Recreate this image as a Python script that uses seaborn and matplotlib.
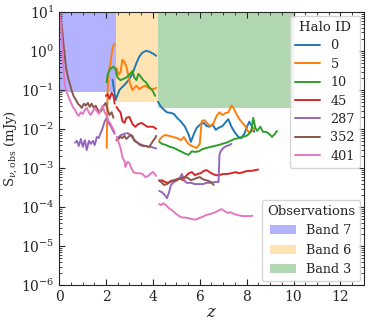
import numpy as np
import pandas as pd
import matplotlib
matplotlib.use('Agg')
import matplotlib.pyplot as plt
import seaborn as sns
from matplotlib.patches import Patch
from matplotlib.ticker import AutoMinorLocator, LogLocator, NullFormatter

nan = np.nan

# Halo flux curves, segments separated by nan (one segment per ALMA band window)
halo_ids = ['0', '5', '10', '45', '287', '352', '401']

z_0 = [2.28, 2.41, 2.58, 2.75, 2.87, 3.00, 3.13, 3.30, 3.42, 3.55, 3.72, 3.84, 4.01, 4.14, nan,
       4.22, 4.35, 4.48, 4.60, 4.77, 4.90, 5.03, 5.20, 5.37, 5.53, 5.62, 5.75, 5.87, 6.04, 6.17,
       6.29, 6.42, 6.55, 6.68, 6.80, 6.97, 7.14, 7.22, 7.35, 7.48, 7.65, 7.77, 7.90, 8.03, 8.11,
       8.24, 8.32]
s_0 = [0.184, 0.056, 0.102, 0.129, 0.154, 0.195, 0.262, 0.50, 0.72, 0.91, 1.02, 0.97, 0.86, 0.76, nan,
       0.050, 0.037, 0.031, 0.027, 0.026, 0.0245, 0.0195, 0.0155, 0.0115, 0.0071, 0.0047, 0.0076,
       0.0108, 0.0135, 0.0144, 0.012, 0.0115, 0.013, 0.0096, 0.0108, 0.012, 0.016, 0.018, 0.0115,
       0.0085, 0.0063, 0.0059, 0.0076, 0.012, 0.0155, 0.0115, 0.0085]

z_5 = [2.03, 2.05, 2.07, 2.11, 2.15, 2.20, 2.24, 2.28, 2.37, nan,
       2.45, 2.53, 2.62, 2.70, 2.79, 2.87, 2.96, 3.04, 3.13, 3.21, 3.30, 3.42, 3.55, 3.68, 3.80,
       3.93, 4.06, 4.14, nan,
       4.27, 4.39, 4.52, 4.69, 4.86, 5.03, 5.20, 5.32, 5.45, 5.58, 5.75, 5.87, 6.00, 6.08, 6.21,
       6.34, 6.46, 6.59, 6.72, 6.84, 6.97, 7.10, 7.22, 7.35, 7.44, 7.56, 7.69, 7.82, 7.94, 8.07,
       8.20, 8.32, 8.41]
s_5 = [0.0033, 0.017, 0.10, 0.25, 0.37, 0.53, 0.81, 1.22, 1.55, nan,
       0.37, 0.25, 0.29, 0.60, 0.53, 0.40, 0.23, 0.137, 0.10, 0.115, 0.13, 0.107, 0.12, 0.13, 0.115,
       0.107, 0.107, 0.115, nan,
       0.0052, 0.0063, 0.0071, 0.0067, 0.0063, 0.0059, 0.0052, 0.0063, 0.0047, 0.0039, 0.0035,
       0.0033, 0.0042, 0.016, 0.017, 0.0135, 0.012, 0.0144, 0.022, 0.027, 0.023, 0.026, 0.027,
       0.040, 0.035, 0.0245, 0.018, 0.0144, 0.012, 0.0085, 0.0085, 0.0108, 0.0096]

z_10 = [2.03, 2.07, 2.15, 2.24, 2.32, 2.41, 2.49, 2.62, 2.75, 2.87, 3.00, 3.13, 3.21, 3.30, 3.38,
        3.46, 3.59, 3.72, 3.84, 3.97, 4.10, nan,
        4.27, 4.39, 4.56, 4.73, 4.90, 5.07, 5.24, 5.41, 5.53, 5.66, 5.79, 5.96, 6.13, 6.29, 6.46,
        6.63, 6.80, 6.97, 7.14, 7.31, 7.48, 7.65, 7.82, 7.98, 8.11, 8.20, 8.28, 8.37, 8.45, 8.58,
        8.70, 8.83, 8.96, 9.08, 9.21, 9.29]
s_10 = [0.16, 0.25, 0.33, 0.37, 0.40, 0.33, 0.21, 0.18, 0.195, 0.21, 0.25, 0.31, 0.21, 0.18, 0.26,
        0.23, 0.18, 0.155, 0.12, 0.10, 0.071, nan,
        0.0047, 0.0042, 0.0039, 0.0035, 0.0033, 0.0029, 0.0026, 0.0023, 0.0022, 0.0027, 0.0026,
        0.0027, 0.0031, 0.0033, 0.0035, 0.0037, 0.0039, 0.0042, 0.0045, 0.0050, 0.0056, 0.0059,
        0.0063, 0.0067, 0.0076, 0.0096, 0.0195, 0.0108, 0.0090, 0.0115, 0.0085, 0.0085, 0.0076,
        0.0063, 0.0076, 0.0090]

z_45 = [1.99, 2.07, 2.15, 2.24, 2.32, 2.37, nan,
        2.45, 2.53, 2.62, 2.70, 2.79, 2.87, 3.00, 3.13, 3.25, 3.38, 3.51, 3.63, 3.76, 3.89, 4.01,
        4.14, nan,
        4.27, 4.39, 4.52, 4.65, 4.77, 4.90, 5.03, 5.15, 5.28, 5.41, 5.53, 5.66, 5.79, 5.91, 6.04,
        6.17, 6.29, 6.42, 6.55, 6.68, 6.84, 7.01, 7.18, 7.35, 7.52, 7.69, 7.86, 8.03, 8.20, 8.37,
        8.49]
s_45 = [0.071, 0.079, 0.060, 0.085, 0.071, 0.045, nan,
        0.037, 0.031, 0.027, 0.016, 0.0144, 0.0195, 0.0205, 0.0135, 0.0115, 0.0135, 0.0144, 0.013,
        0.0115, 0.0115, 0.0115, 0.0102, nan,
        4.7e-4, 4.9e-4, 4.4e-4, 4.2e-4, 4.7e-4, 4.9e-4, 5.2e-4, 5.6e-4, 4.9e-4, 6.3e-4, 7.4e-4,
        7.9e-4, 6.6e-4, 7.1e-4, 7.4e-4, 8.5e-4, 8.9e-4, 7.9e-4, 7.1e-4, 6.6e-4, 6.6e-4, 7.1e-4,
        7.1e-4, 7.4e-4, 7.9e-4, 7.4e-4, 7.9e-4, 8.5e-4, 8.5e-4, 8.9e-4, 9.2e-4]

z_287 = [0.68, 0.76, 0.84, 0.93, 1.01, 1.10, 1.18, 1.27, 1.35, 1.44, 1.52, 1.61, 1.69, 1.77, 1.86,
         1.94, 2.03, 2.11, 2.20, 2.28, 2.37, nan,
         2.45, 2.53, 2.66, 2.79, 2.92, 3.04, 3.17, 3.30, 3.42, 3.55, 3.68, 3.80, 3.93, 4.06, 4.14, nan,
         4.27, 4.39, 4.52, 4.60, 4.69, 4.77, 4.90, 5.03, 5.15, 5.24, 5.32, 5.45, 5.62, 5.79, 5.96,
         6.13, 6.29, 6.46, 6.63, 6.80, 6.84, 6.89, 7.01, 7.14, 7.27, 7.35]
s_287 = [0.0045, 0.0050, 0.0037, 0.0056, 0.0035, 0.0052, 0.0029, 0.0050, 0.0042, 0.0050, 0.0039,
         0.0063, 0.0059, 0.0079, 0.0108, 0.0155, 0.0195, 0.0144, 0.012, 0.0096, 0.0076, nan,
         0.0052, 0.0063, 0.0071, 0.0076, 0.0079, 0.0071, 0.0056, 0.0047, 0.0042, 0.0039, 0.0037,
         0.0035, 0.0035, 0.0033, 0.0032, nan,
         2.6e-4, 2.4e-4, 2.0e-4, 1.7e-4, 2.4e-4, 3.7e-4, 4.4e-4, 4.9e-4, 5.6e-4, 7.1e-4, 4.9e-4,
         4.2e-4, 4.2e-4, 3.9e-4, 3.9e-4, 3.9e-4, 4.2e-4, 4.2e-4, 4.4e-4, 4.4e-4, 0.0022, 0.0027,
         0.0033, 0.0037, 0.0039, 0.0042]

z_352 = [0.04, 0.13, 0.21, 0.30, 0.38, 0.46, 0.55, 0.63, 0.72, 0.80, 0.89, 0.97, 1.06, 1.14, 1.23,
         1.31, 1.39, 1.48, 1.56, 1.65, 1.73, 1.82, 1.90, 1.99, 2.07, 2.15, 2.24, 2.32, nan,
         2.45, 2.53, 2.62, 2.70, 2.79, 2.87, 2.96, 3.04, 3.13, 3.21, 3.34, 3.46, 3.59, 3.72, 3.84,
         3.93, 4.01, 4.10, 4.14, nan,
         4.27, 4.35, 4.48, 4.60, 4.73, 4.86, 4.99, 5.11, 5.24, 5.37, 5.49, 5.62, 5.75, 5.87, 6.00,
         6.13, 6.25, 6.38, 6.51, 6.59]
s_352 = [9.7, 3.5, 1.1, 0.37, 0.21, 0.145, 0.091, 0.068, 0.056, 0.045, 0.040, 0.035, 0.045, 0.040,
         0.047, 0.037, 0.045, 0.035, 0.040, 0.031, 0.027, 0.031, 0.040, 0.047, 0.031, 0.023, 0.027,
         0.0195, nan,
         0.0052, 0.0056, 0.0063, 0.0059, 0.0067, 0.0056, 0.0063, 0.0071, 0.0067, 0.0050, 0.0045,
         0.0039, 0.0037, 0.0037, 0.0035, 0.0042, 0.0050, 0.0059, 0.0067, nan,
         4.9e-4, 4.4e-4, 3.7e-4, 3.9e-4, 4.4e-4, 4.7e-4, 4.9e-4, 5.2e-4, 5.6e-4, 5.9e-4, 5.6e-4,
         4.9e-4, 5.2e-4, 5.6e-4, 5.9e-4, 5.2e-4, 4.9e-4, 4.7e-4, 4.2e-4, 3.7e-4]

z_401 = [0.02, 0.08, 0.13, 0.17, 0.21, 0.25, 0.34, 0.42, 0.51, 0.59, 0.68, 0.76, 0.84, 0.93, 1.01,
         1.10, 1.18, 1.27, 1.35, 1.44, 1.52, 1.61, 1.69, 1.77, 1.86, 1.94, 2.03, 2.11, 2.20, 2.28,
         2.37, nan,
         2.45, 2.53, 2.62, 2.70, 2.79, 2.83, 2.92, 3.00, 3.08, 3.17, 3.30, 3.42, 3.55, 3.68, 3.80,
         3.93, 4.01, 4.14, nan,
         4.27, 4.35, 4.44, 4.56, 4.69, 4.82, 4.94, 5.07, 5.20, 5.37, 5.53, 5.70, 5.83, 5.96, 6.08,
         6.25, 6.42, 6.59, 6.76, 6.93, 7.06, 7.18, 7.31, 7.48, 7.65, 7.82, 7.98, 8.15, 8.24]
s_401 = [9.7, 4.8, 1.45, 0.53, 0.23, 0.13, 0.085, 0.063, 0.047, 0.037, 0.031, 0.0245, 0.022, 0.027,
         0.0245, 0.031, 0.035, 0.027, 0.023, 0.029, 0.035, 0.029, 0.0245, 0.031, 0.040, 0.027,
         0.022, 0.016, 0.0135, 0.0108, 0.0085, nan,
         0.0063, 0.0047, 0.0033, 0.0019, 0.0015, 0.00107, 0.00145, 0.00135, 0.0010, 7.9e-4, 7.4e-4,
         7.4e-4, 7.1e-4, 5.9e-4, 6.3e-4, 7.4e-4, 7.9e-4, 6.3e-4, nan,
         1.2e-4, 1.12e-4, 1.26e-4, 1.12e-4, 9.3e-5, 8.3e-5, 7.1e-5, 6.2e-5, 5.5e-5, 5.4e-5, 5.2e-5,
         4.9e-5, 4.8e-5, 5.2e-5, 5.5e-5, 6.2e-5, 6.6e-5, 7.1e-5, 7.9e-5, 8.9e-5, 7.9e-5, 7.1e-5,
         7.4e-5, 6.6e-5, 6.2e-5, 5.9e-5, 5.9e-5, 5.9e-5, 6.0e-5]

# Observation windows: (name, z_min, z_max, flux lower limit)
band_names = ['Band 7', 'Band 6', 'Band 3']
band_zmin = [0.0, 2.42, 4.2]
band_zmax = [2.42, 4.2, 10.0]
band_smin = [0.088, 0.049, 0.034]
band_colors = ['blue', 'orange', 'green']

curves = {'0': (z_0, s_0), '5': (z_5, s_5), '10': (z_10, s_10), '45': (z_45, s_45),
          '287': (z_287, s_287), '352': (z_352, s_352), '401': (z_401, s_401)}

rows = []
for hid in halo_ids:
    zs, ss = curves[hid]
    seg = 0
    for zv, sv in zip(zs, ss):
        if np.isnan(zv):
            seg += 1
            continue
        rows.append({'Halo ID': hid, 'seg': seg, 'z': zv, 'S': sv})
df = pd.DataFrame(rows)

sns.set_style('ticks')
plt.rcParams['font.family'] = ['DejaVu Serif']
plt.rcParams['mathtext.fontset'] = 'dejavuserif'
plt.rcParams['font.size'] = 9
plt.rcParams['xtick.direction'] = 'in'
plt.rcParams['ytick.direction'] = 'in'
plt.rcParams['xtick.top'] = True
plt.rcParams['ytick.right'] = True

fig, ax = plt.subplots(figsize=(3.74, 3.27), dpi=100)
fig.subplots_adjust(left=0.158, right=0.973, top=0.963, bottom=0.128)

for name, z1, z2, smin, col in zip(band_names, band_zmin, band_zmax, band_smin, band_colors):
    ax.fill_between([z1, z2], [smin, smin], [10, 10], color=col, alpha=0.3, linewidth=0, zorder=0)

sns.lineplot(data=df, x='z', y='S', hue='Halo ID', hue_order=halo_ids, units='seg',
             estimator=None, sort=False, palette='tab10', linewidth=1.4, ax=ax)

ax.set_yscale('log')
ax.set_xlim(0, 13)
ax.set_ylim(1e-6, 10)
ax.xaxis.set_minor_locator(AutoMinorLocator(4))
ax.yaxis.set_major_locator(LogLocator(base=10, numticks=20))
ax.yaxis.set_minor_locator(LogLocator(base=10, subs=np.arange(2, 10), numticks=20))
ax.yaxis.set_minor_formatter(NullFormatter())
ax.tick_params(which='both', direction='in', top=True, right=True, labelsize=10)
ax.tick_params(which='major', length=4)
ax.tick_params(which='minor', length=2)
ax.set_xlabel('$z$', fontsize=12, labelpad=0)
ax.set_ylabel(r'$\mathrm{S}_{\nu,\mathrm{obs}}$ (mJy)', fontsize=9.5, labelpad=1)

handles, labels = ax.get_legend_handles_labels()
leg1 = ax.legend(handles, labels, title='Halo ID', loc='upper right', fontsize=9.2,
                 title_fontsize=9.5, handlelength=2.0, borderaxespad=0.3, labelspacing=0.42)
ax.add_artist(leg1)
patches = [Patch(facecolor=c, alpha=0.3, edgecolor='none', label=n)
           for n, c in zip(band_names, band_colors)]
ax.legend(handles=patches, title='Observations', loc='lower right', fontsize=9.2,
          title_fontsize=9.5, borderaxespad=0.3, labelspacing=0.5)

fig.savefig('out.png', dpi=100)
